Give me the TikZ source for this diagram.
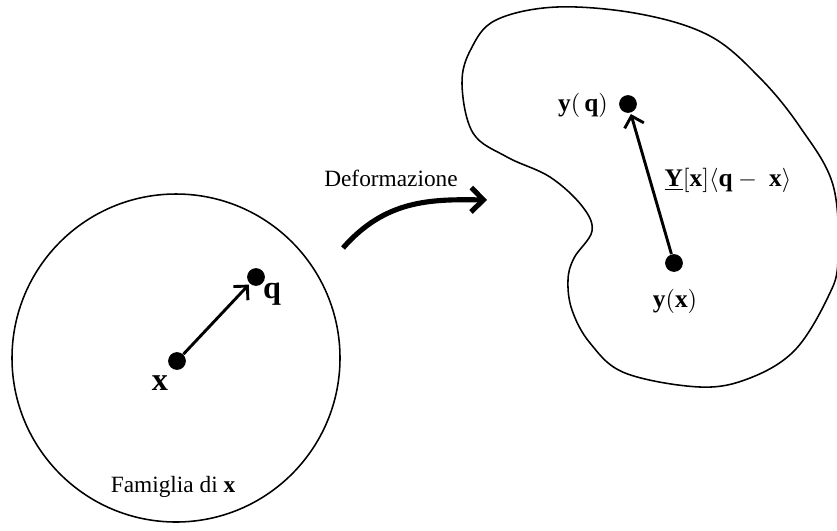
\documentclass[tikz,border=0pt]{standalone}
\usepackage{mathtools}
\usepackage{fontspec}
\setmainfont{Liberation Serif}
\usetikzlibrary{arrows.meta}

\begin{document}
\begin{tikzpicture}[x=0.45pt,y=-0.45pt,
    dot/.style={circle,fill,inner sep=0pt,minimum size=8pt},
    pt/.style={font=\fontsize{14.5}{16}\selectfont},
    lab/.style={font=\fontsize{11.4}{13}\selectfont},
    txt/.style={font=\fontsize{10.5}{12}\selectfont},
    vec/.style={line width=1.3pt,-{Straight Barb[length=4.5pt,width=9pt]},shorten >=0.5pt}]
        \useasboundingbox (0,0) rectangle (837,530);
        % regions
        \draw [line width=0.7pt] (176,358) circle [radius=164];
        \draw [line width=0.7pt] plot [smooth cycle, tension=0.6] coordinates {
            (557,7) (640,14) (710,36) (760,78) (800,127) (833,185) (838,260)
            (828,297) (795,350) (750,378) (700,387) (625,373) (590,343)
            (572,310) (568,280) (574,258) (592,231) (582,206) (550,177)
            (507,157) (473,133) (462,84) (471,49) (496,20)};
        % points
        \node [dot] (v0) at (177,361) {};
        \node [dot] (v1) at (256,277) {};
        \node [dot] (v2) at (674,263) {};
        \node [dot] (v3) at (628,104) {};
        \node [pt] (l0) at (160,383) {$\mathbf{x}$};
        \node [pt] (l1) at (272,294) {$\mathbf{q}$};
        \node [lab] (l2) at (675,301) {$\mathbf{y}(\mathbf{x})$};
        \node [lab] (l3) at (583,105) {$\mathbf{y}(\,\mathbf{q})$};
        \node [lab] (l4) at (728,180) {$\underline{\mathbf{Y}}[\mathbf{x}]\langle\mathbf{q}-\;\mathbf{x}\rangle$};
        \node [txt] (l5) at (173,487) {Famiglia di $\mathbf{x}$};
        \node [txt] (l6) at (391,178) {Deformazione};
        \draw [vec] (v0) edge (v1);
        \draw [vec] (v2) edge (v3);
        % deformation arrow
        \coordinate (c0) at (343,248);
        \coordinate (c1) at (487,200);
        \draw [line width=2.3pt,-{Straight Barb[length=5.5pt,width=11pt]}] (c0) .. controls (385,200) and (430,199) .. (c1);
\end{tikzpicture}
\end{document}
